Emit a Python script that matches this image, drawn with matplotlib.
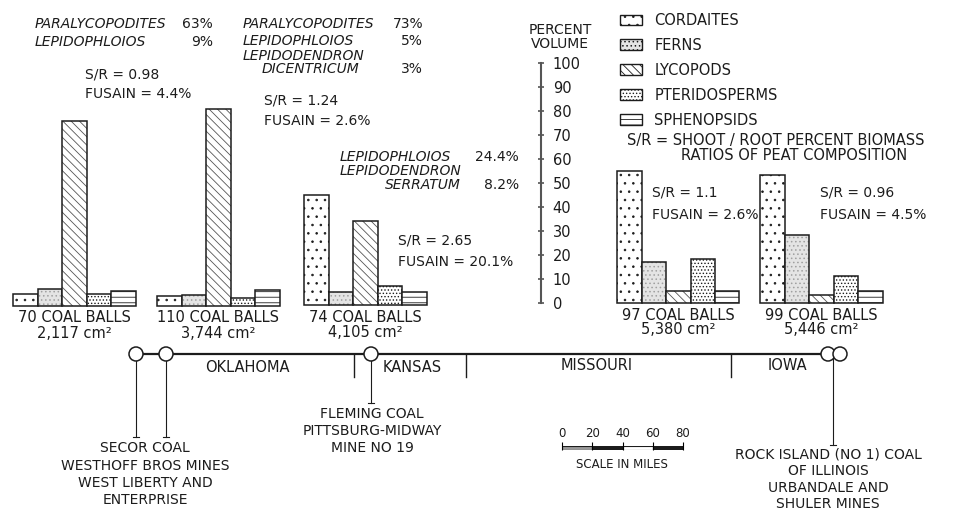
import matplotlib.pyplot as plt
from matplotlib.patches import Patch, Circle

plt.rcParams['font.family'] = 'DejaVu Sans'
plt.rcParams['hatch.linewidth'] = 0.6
INK = '#1c1c1c'

# percent volume of each plant group, one value per coal-ball sample
samples = ["70 COAL BALLS", "110 COAL BALLS", "74 COAL BALLS", "97 COAL BALLS", "99 COAL BALLS"]
areas = ["2,117 cm²", "3,744 cm²", "4,105 cm²", "5,380 cm²", "5,446 cm²"]
taxa = ["CORDAITES", "FERNS", "LYCOPODS", "PTERIDOSPERMS", "SPHENOPSIDS"]
cordaites = [5, 4, 46, 55, 53]
ferns = [7, 4.5, 5.5, 17, 28]
lycopods = [77, 82, 35, 5, 3]
pteridosperms = [5, 3, 8, 18, 11]
sphenopsids = [6, 6.5, 5.5, 5, 5]
shoot_root = ["0.98", "1.24", "2.65", "1.1", "0.96"]
fusain = ["4.4", "2.6", "20.1", "2.6", "4.5"]
pct_ticks = list(range(0, 101, 10))
scale_miles = [0, 20, 40, 60, 80]

values = [cordaites, ferns, lycopods, pteridosperms, sphenopsids]

# fill / hatch look of each taxon
styles = [
    dict(fc='white', hatch='..', hc=INK),
    dict(fc='#e4e4e4', hatch='....', hc='#a0a0a0'),
    dict(fc='white', hatch='\\\\\\\\', hc='#555555'),
    dict(fc='white', hatch='.....', hc=INK),
    dict(fc='white', hatch='---', hc=INK),
]

W, H = 968, 511
fig = plt.figure(figsize=(W / 100, H / 100), dpi=100)
base = fig.add_axes([0, 0, 1, 1])
base.set_xlim(0, W)
base.set_ylim(H, 0)
base.axis('off')


def px_axes(x0, ytop, w, h):
    return fig.add_axes([x0 / W, 1 - (ytop + h) / H, w / W, h / H])


def txt(x, y, s, **kw):
    kw.setdefault('fontsize', 10.5)
    kw.setdefault('color', INK)
    kw.setdefault('va', 'center')
    base.text(x, y, s, **kw)


# bar groups: 100 % = 240 px
BAR_W = 24.5
group_left = [13, 157, 304, 617, 760]
group_base = [305.5, 305.5, 305, 302.5, 302.5]
for g in range(len(samples)):
    ax = px_axes(group_left[g], group_base[g] - 240, BAR_W * 5, 240)
    ax.set_xlim(-0.5, 4.5)
    ax.set_ylim(0, 100)
    ax.axis('off')
    for i, st in enumerate(styles):
        ax.bar(i, values[i][g], width=1, color=st['fc'], hatch=st['hatch'],
               edgecolor=st['hc'], linewidth=0, clip_on=False)
        ax.bar(i, values[i][g], width=1, fill=False, edgecolor=INK,
               linewidth=1.1, clip_on=False)
    cx = group_left[g] + BAR_W * 2.5
    txt(cx, group_base[g] + 12.5, samples[g], ha='center')
    txt(cx, group_base[g] + 27.5, areas[g], ha='center')

# S/R and fusain notes
sr_pos = [(85, 75, 94), (264, 100, 121), (398, 241, 262), (652, 192, 215), (820, 192, 215)]
for (x, y1, y2), sr, fu in zip(sr_pos, shoot_root, fusain):
    txt(x, y1, f"S/R = {sr}", fontsize=10)
    txt(x, y2, f"FUSAIN = {fu}%", fontsize=10)

# dominant lycopod species
it = dict(style='italic', fontsize=10)
txt(35, 24, "PARALYCOPODITES", **it)
txt(213, 24, "63%", ha='right', fontsize=10)
txt(35, 42, "LEPIDOPHLOIOS", **it)
txt(213, 42, "9%", ha='right', fontsize=10)

txt(243, 24, "PARALYCOPODITES", **it)
txt(423, 24, "73%", ha='right', fontsize=10)
txt(243, 41, "LEPIDOPHLOIOS", **it)
txt(423, 41, "5%", ha='right', fontsize=10)
txt(243, 56, "LEPIDODENDRON", **it)
txt(262, 69, "DICENTRICUM", **it)
txt(423, 69, "3%", ha='right', fontsize=10)

txt(340, 157, "LEPIDOPHLOIOS", **it)
txt(519, 157, "24.4%", ha='right', fontsize=10)
txt(340, 171, "LEPIDODENDRON", **it)
txt(385, 185, "SERRATUM", **it)
txt(519, 185, "8.2%", ha='right', fontsize=10)

# percent volume scale
pax = px_axes(540, 303.3 - 240, 1, 240)
pax.set_ylim(0, 100)
pax.set_yticks(pct_ticks)
pax.yaxis.tick_right()
pax.set_xticks([])
for s in ['left', 'top', 'bottom']:
    pax.spines[s].set_visible(False)
pax.spines['right'].set_color('#555555')
pax.spines['right'].set_linewidth(1.5)
pax.tick_params(axis='y', direction='inout', length=5, width=1.2, pad=6,
                labelsize=10.5, colors='#555555', labelcolor=INK)
pax.patch.set_alpha(0)
txt(560, 30, "PERCENT", ha='center', fontsize=10)
txt(560, 44, "VOLUME", ha='center', fontsize=10)

# legend
handles = [Patch(facecolor=st['fc'], hatch=st['hatch'], edgecolor=INK, linewidth=1)
           for st in styles]
base.legend(handles, taxa, loc='upper left', bbox_to_anchor=(620, 13),
            bbox_transform=base.transData, frameon=False, fontsize=10.5,
            handlelength=1.5, handleheight=0.75, handletextpad=0.85,
            labelspacing=0.68, borderpad=0, borderaxespad=0, labelcolor=INK)
txt(627, 141, "S/R = SHOOT / ROOT PERCENT BIOMASS")
txt(681, 155, "RATIOS OF PEAT COMPOSITION")

# transect line with states and sites
base.plot([136, 840], [354, 354], color=INK, lw=1.6, zorder=2)
for bx in [354, 466, 731]:
    base.plot([bx, bx], [354, 377], color=INK, lw=1, zorder=2)
txt(247, 368, "OKLAHOMA", ha='center')
txt(412, 367, "KANSAS", ha='center')
txt(597, 366, "MISSOURI", ha='center')
txt(787, 365, "IOWA", ha='center')

for sx, end in [(136, 437), (166, 437), (371, 403), (833, 445)]:
    base.plot([sx, sx], [354, end], color=INK, lw=0.8, zorder=1)
    base.plot([sx - 3, sx + 3], [end, end], color=INK, lw=0.8, zorder=1)
for sx in [136, 166, 371, 828, 840]:
    base.add_patch(Circle((sx, 354), 7, facecolor='white', edgecolor=INK,
                          lw=1.1, zorder=3))

for i, line in enumerate(["SECOR COAL", "WESTHOFF BROS MINES",
                          "WEST LIBERTY AND", "ENTERPRISE"]):
    txt(145, 448 + 17.5 * i, line, ha='center', fontsize=10)
for i, line in enumerate(["FLEMING COAL", "PITTSBURG-MIDWAY", "MINE NO 19"]):
    txt(372, 414 + 17 * i, line, ha='center', fontsize=10)
for i, line in enumerate(["ROCK ISLAND (NO 1) COAL", "OF ILLINOIS",
                          "URBANDALE AND", "SHULER MINES"]):
    txt(828, 455 + 16.3 * i, line, ha='center', fontsize=10)

# mileage scale bar
sax = px_axes(562, 446, 121, 4)
sax.set_xlim(0, 80)
sax.set_ylim(0, 1)
sax.broken_barh([(scale_miles[i], scale_miles[i + 1] - scale_miles[i])
                 for i in range(len(scale_miles) - 1)], (0, 1),
                facecolors=['#999999', INK, 'white', INK], edgecolor=INK, lw=0.8)
sax.xaxis.tick_top()
sax.set_xticks(scale_miles)
sax.set_yticks([])
for s in sax.spines.values():
    s.set_visible(False)
sax.tick_params(axis='x', direction='inout', length=6, width=0.8, pad=1,
                labelsize=8.5, labelcolor=INK)
sax.patch.set_alpha(0)
txt(622, 464, "SCALE IN MILES", ha='center', fontsize=8.5)

fig.savefig('out.png', dpi=100)
